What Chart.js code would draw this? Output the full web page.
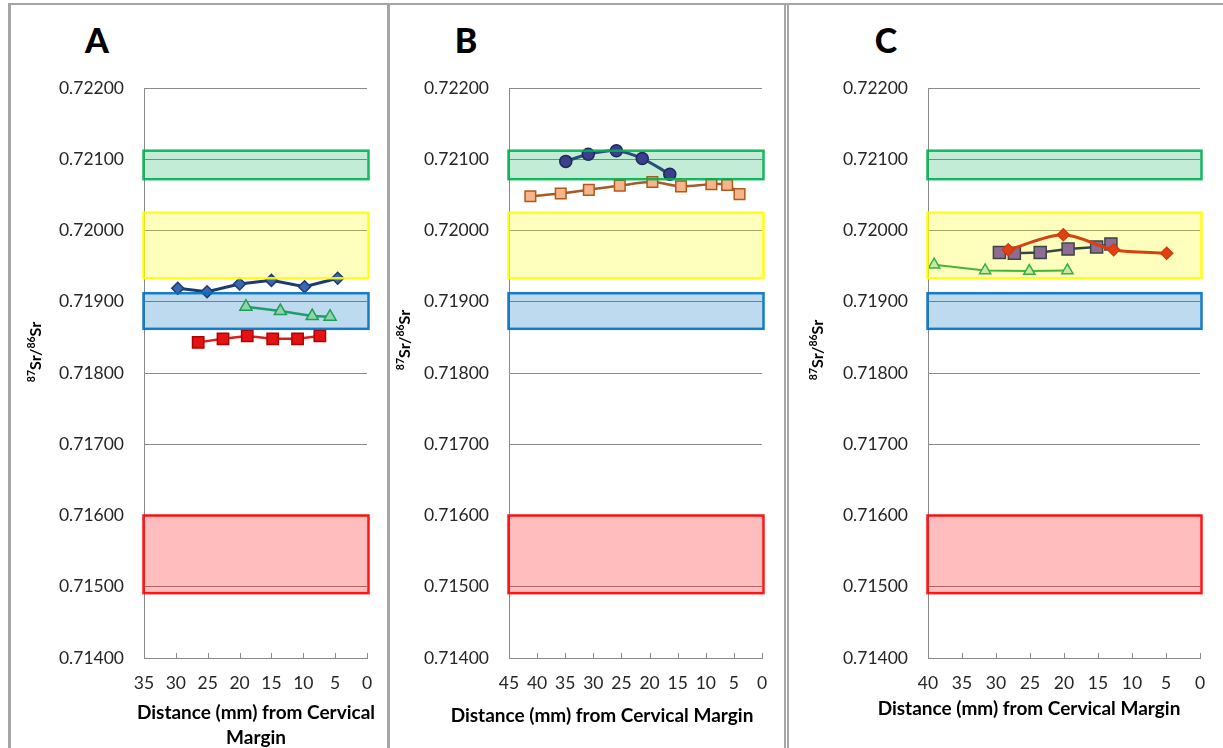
<!DOCTYPE html>
<html lang="en">
<head>
  <meta charset="UTF-8">
  <title>87Sr/86Sr profiles</title>
  <script src="https://cdn.jsdelivr.net/npm/chart.js"></script>
  <style>
    body {
      margin: 0;
      background: #fff;
      width: 1223px;
      height: 748px;
      overflow: hidden;
      position: relative;
      font-family: Lato, sans-serif;
    }
    .frame { position: absolute; background: #a6a6a6; }
    .panel { position: absolute; top: 5px; }
    .letter {
      position: absolute;
      top: 20px;
      width: 60px;
      text-align: center;
      font: 900 34px Lato, sans-serif;
      line-height: 40px;
      color: #000;
    }
  </style>
</head>
<body>
  <!-- panel frames -->
  <div class="frame" style="left:8px;top:3px;width:1215px;height:2px"></div>
  <div class="frame" style="left:8px;top:3px;width:3px;height:745px"></div>
  <div class="frame" style="left:387px;top:3px;width:3px;height:745px"></div>
  <div class="frame" style="left:784px;top:3px;width:2px;height:745px"></div>
  <div class="frame" style="left:787px;top:3px;width:2px;height:745px"></div>

  <div class="letter" style="left:67px">A</div>
  <div class="letter" style="left:436px">B</div>
  <div class="letter" style="left:856px">C</div>

  <canvas id="chartA" class="panel" style="left:12px" width="374" height="743"></canvas>
  <canvas id="chartB" class="panel" style="left:392px" width="391" height="743"></canvas>
  <canvas id="chartC" class="panel" style="left:790px" width="433" height="743"></canvas>

  <script>
    // y axis (87Sr/86Sr)
    const yMin = 0.714;
    const yMax = 0.722;
    const yStep = 0.001;

    // x axis (distance from cervical margin, mm)
    const xMaxA = 35;
    const xMaxB = 45;
    const xMaxC = 40;
    const xStep = 5;

    // reference ranges (low / high), bottom to top
    const bandLow  = [0.71491, 0.71862, 0.71933, 0.72072];
    const bandHigh = [0.71600, 0.71912, 0.72025, 0.72112];
    const bandFill = ["rgba(255,0,0,0.26)", "rgba(0,112,192,0.26)", "rgba(255,255,0,0.26)", "rgba(0,176,80,0.24)"];
    const bandLine = ["rgba(255,0,0,0.9)", "rgba(0,112,192,0.9)", "rgba(255,255,0,0.9)", "rgba(0,176,80,0.9)"];

    // panel A
    const aNavyX = [29.7, 25.1, 20.0, 15.0, 9.8, 4.6];
    const aNavyY = [0.71919, 0.71914, 0.71925, 0.71930, 0.71921, 0.71933];
    const aGreenX = [19.0, 13.6, 8.6, 5.8];
    const aGreenY = [0.71893, 0.71887, 0.71880, 0.71879];
    const aRedX = [26.5, 22.6, 18.8, 14.8, 10.9, 7.4];
    const aRedY = [0.71843, 0.71848, 0.71852, 0.71848, 0.71848, 0.71852];

    // panel B
    const bNavyX = [34.9, 30.9, 25.9, 21.3, 16.4];
    const bNavyY = [0.72097, 0.72107, 0.72112, 0.72101, 0.72079];
    const bOrangeX = [41.2, 35.8, 30.8, 25.3, 19.5, 14.4, 9.0, 6.2, 4.0];
    const bOrangeY = [0.72048, 0.72052, 0.72057, 0.72063, 0.72068, 0.72062, 0.72065, 0.72064, 0.72051];

    // panel C
    const cOrangeX = [28.2, 20.1, 12.7, 4.9];
    const cOrangeY = [0.71973, 0.71994, 0.71973, 0.71968];
    const cGrayX = [29.5, 27.3, 23.5, 19.4, 15.2, 13.1];
    const cGrayY = [0.71969, 0.71968, 0.71969, 0.71974, 0.71977, 0.71981];
    const cGreenX = [39.1, 31.6, 25.1, 19.5];
    const cGreenY = [0.71952, 0.71944, 0.71943, 0.71944];

    const xTitle = "Distance (mm) from Cervical Margin";
    const gridGray = "#8a8a8a";

    function pts(xs, ys) {
      return xs.map((x, i) => ({ x: x, y: ys[i] }));
    }

    function bandRect(chart, i) {
      const { chartArea, scales: { y } } = chart;
      const top = y.getPixelForValue(bandHigh[i]);
      const bottom = y.getPixelForValue(bandLow[i]);
      return [chartArea.left - 0.5, top, chartArea.right - chartArea.left + 2, bottom - top];
    }

    // translucent reference boxes: fill under the series, outline on top
    const bandPlugin = {
      id: "bands",
      beforeDatasetsDraw(chart) {
        const ctx = chart.ctx;
        ctx.save();
        for (let i = 0; i < bandLow.length; i++) {
          ctx.fillStyle = bandFill[i];
          ctx.fillRect(...bandRect(chart, i));
        }
        ctx.restore();
      },
      afterDatasetsDraw(chart) {
        const ctx = chart.ctx;
        ctx.save();
        ctx.lineWidth = 2.5;
        for (let i = 0; i < bandLow.length; i++) {
          ctx.strokeStyle = bandLine[i];
          ctx.strokeRect(...bandRect(chart, i));
        }
        ctx.restore();
      }
    };

    // small inside tick marks on the x axis
    const innerTicks = {
      id: "innerTicks",
      beforeDatasetsDraw(chart) {
        const { ctx, chartArea, scales: { x } } = chart;
        ctx.save();
        ctx.strokeStyle = gridGray;
        ctx.lineWidth = 1;
        x.ticks.forEach(t => {
          const px = Math.round(x.getPixelForValue(t.value)) + 0.5;
          ctx.beginPath();
          ctx.moveTo(px, chartArea.bottom - 5);
          ctx.lineTo(px, chartArea.bottom);
          ctx.stroke();
        });
        ctx.restore();
      }
    };

    // rotated "87Sr/86Sr" with superscripts, and the x title (allowed to run past the plot)
    const axisTitles = {
      id: "axisTitles",
      afterDraw(chart, args, opts) {
        const ctx = chart.ctx;
        const big = "bold 16px Lato";
        const small = "bold 10.5px Lato";
        const parts = [["87", small], ["Sr/", big], ["86", small], ["Sr", big]];
        ctx.save();
        ctx.fillStyle = "#000";
        ctx.translate(opts.yx, opts.yy);
        ctx.rotate(-Math.PI / 2);
        ctx.textBaseline = "alphabetic";
        let total = 0;
        parts.forEach(p => { ctx.font = p[1]; total += ctx.measureText(p[0]).width; });
        let cx = -total / 2;
        parts.forEach(p => {
          ctx.font = p[1];
          ctx.fillText(p[0], cx, p[1] === small ? 0 : 6);
          cx += ctx.measureText(p[0]).width;
        });
        ctx.restore();

        ctx.save();
        ctx.fillStyle = "#000";
        ctx.font = "bold 19px Lato";
        ctx.textAlign = "center";
        ctx.textBaseline = "middle";
        opts.lines.forEach((t, i) => ctx.fillText(t, opts.xx, opts.xy + i * 25));
        ctx.restore();
      }
    };

    function panelOptions(xMax, yWidth, padRight, titles) {
      return {
        responsive: false,
        animation: false,
        layout: { padding: { left: 0, right: padRight, top: 83, bottom: 0 } },
        plugins: {
          legend: { display: false },
          tooltip: { enabled: false },
          axisTitles: titles
        },
        scales: {
          x: {
            type: "linear",
            min: 0,
            max: xMax,
            reverse: true,
            afterFit: s => { s.height = 90; },
            grid: { display: false },
            border: { display: true, color: gridGray, width: 1 },
            ticks: {
              stepSize: xStep,
              autoSkip: false,
              padding: 7,
              color: "#262626",
              font: { family: "Lato", size: 17.5 }
            }
          },
          y: {
            min: yMin,
            max: yMax,
            afterFit: s => { s.width = yWidth; },
            grid: { color: gridGray, lineWidth: 1, drawTicks: false },
            border: { display: true, color: gridGray, width: 1 },
            ticks: {
              stepSize: yStep,
              padding: 20,
              color: "#262626",
              font: { family: "Lato", size: 17.5 },
              callback: v => v.toFixed(5)
            }
          }
        }
      };
    }

    function series(data, line, width, style, radius, fill, edge, tension) {
      return {
        data: data,
        showLine: true,
        borderColor: line,
        borderWidth: width,
        tension: tension || 0,
        pointStyle: style,
        pointRadius: radius,
        pointBackgroundColor: fill,
        pointBorderColor: edge,
        pointBorderWidth: 1.5
      };
    }

    new Chart(document.getElementById("chartA"), {
      type: "scatter",
      data: {
        datasets: [
          series(pts(aNavyX, aNavyY), "#1f3a70", 3, "rectRot", 6, "#3a66b0", "#1f3a70"),
          series(pts(aGreenX, aGreenY), "#1f9e6a", 2.5, "triangle", 7, "#8fd4a8", "#1e9e5a"),
          series(pts(aRedX, aRedY), "#d42020", 2.5, "rect", 8, "#e41212", "#b00000")
        ]
      },
      options: panelOptions(xMaxA, 132, 19, {
        yx: 23, yy: 347, xx: 244, xy: 708, lines: ["Distance (mm) from Cervical", "Margin"]
      }),
      plugins: [innerTicks, bandPlugin, axisTitles]
    });

    new Chart(document.getElementById("chartB"), {
      type: "scatter",
      data: {
        datasets: [
          series(pts(bNavyX, bNavyY), "#25507a", 3, "circle", 6, "#3b3f8c", "#1c2a5a", 0.3),
          series(pts(bOrangeX, bOrangeY), "#a65a28", 2.5, "rect", 7.5, "#f6b48a", "#b0581e", 0.3)
        ]
      },
      options: panelOptions(xMaxB, 117, 21, {
        yx: 12, yy: 335, xx: 210, xy: 711, lines: [xTitle]
      }),
      plugins: [innerTicks, bandPlugin, axisTitles]
    });

    new Chart(document.getElementById("chartC"), {
      type: "scatter",
      data: {
        datasets: [
          series(pts(cOrangeX, cOrangeY), "#d9400f", 3, "rectRot", 6, "#e2400f", "#d23a0f", 0.3),
          series(pts(cGrayX, cGrayY), "#3a4444", 2.5, "rect", 8.5, "#8e6c94", "#3c4646"),
          series(pts(cGreenX, cGreenY), "#44b53a", 2, "triangle", 6.5, "#c4e8b0", "#3daf35")
        ]
      },
      options: panelOptions(xMaxC, 138, 23, {
        yx: 27, yy: 345, xx: 239, xy: 704, lines: [xTitle]
      }),
      plugins: [innerTicks, bandPlugin, axisTitles]
    });
  </script>
</body>
</html>
